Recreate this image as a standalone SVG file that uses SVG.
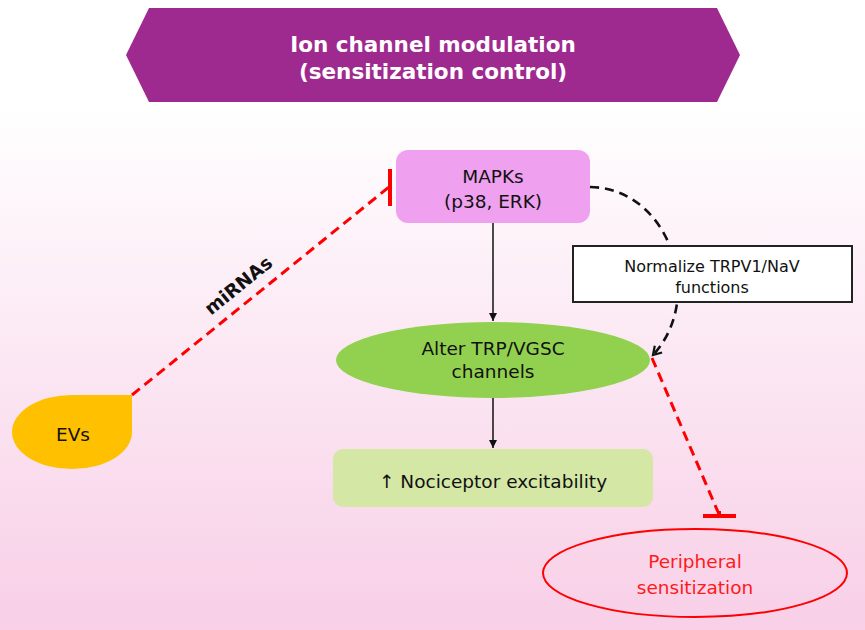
<svg xmlns="http://www.w3.org/2000/svg" width="865" height="630" viewBox="0 0 865 630">
<defs>
<linearGradient id="bg" x1="0" y1="0" x2="0" y2="630" gradientUnits="userSpaceOnUse">
<stop offset="0" stop-color="#ffffff"/>
<stop offset="0.17" stop-color="#ffffff"/>
<stop offset="0.5" stop-color="#fcebf5"/>
<stop offset="1" stop-color="#f8cfe7"/>
</linearGradient>
<marker id="arrow" markerUnits="userSpaceOnUse" markerWidth="10" markerHeight="10" refX="8" refY="4" orient="auto">
<path d="M0,0 L8,4 L0,8 z" fill="#111"/>
</marker>
<marker id="open" markerUnits="userSpaceOnUse" markerWidth="14" markerHeight="14" refX="9" refY="6" orient="auto">
<polyline points="1,1 9,6 1,11" fill="none" stroke="#111" stroke-width="2.2"/>
</marker>
<style>
.t{font-family:"DejaVu Sans","Liberation Sans",sans-serif;font-size:18.5px;fill:#111;text-anchor:middle}
.title{font-family:"DejaVu Sans","Liberation Sans",sans-serif;font-size:21.5px;font-weight:bold;fill:#fff;text-anchor:middle}
.red{stroke:#ff0000;stroke-width:3;fill:none;stroke-dasharray:10 6}
.bar{stroke:#ff0000;stroke-width:4;fill:none}
.solid{stroke:#111;stroke-width:1.5;fill:none}
.blk{stroke:#111;stroke-width:2.6;fill:none;stroke-dasharray:9 6}
</style>
</defs>
<rect width="865" height="630" fill="url(#bg)"/>

<g id="title">
<polygon points="126,55 149,8 717,8 740,55 717,102 149,102" fill="#9f2a8f"/>
<text class="title" x="433" y="52">Ion channel modulation</text>
<text class="title" x="433" y="79">(sensitization control)</text>
</g>

<g id="connectors">
<line class="solid" x1="493" y1="223" x2="493" y2="321" marker-end="url(#arrow)"/>
<line class="solid" x1="493" y1="397" x2="493" y2="448" marker-end="url(#arrow)"/>
<path class="blk" d="M590,187 C670,188 706,298 653,355" marker-end="url(#open)"/>
<line class="red" x1="132" y1="395" x2="389" y2="187"/>
<line class="bar" x1="390" y1="169" x2="390" y2="206"/>
<line class="red" x1="652" y1="358" x2="718" y2="512"/>
<line class="bar" x1="719" y1="511" x2="719" y2="516"/>
<line class="bar" x1="703" y1="516" x2="736" y2="516"/>
<text x="0" y="7" transform="translate(238,285) rotate(-39)" style="font-family:'DejaVu Sans','Liberation Sans',sans-serif;font-size:18.5px;font-weight:bold;fill:#111;text-anchor:middle">miRNAs</text>
</g>

<g id="mapks">
<rect x="396" y="150" width="194" height="73" rx="12" fill="#efa0ef"/>
<text class="t" x="493" y="183">MAPKs</text>
<text class="t" x="493" y="208">(p38, ERK)</text>
</g>

<g id="normalize">
<rect x="573" y="246" width="279" height="56" fill="#ffffff" stroke="#222" stroke-width="2"/>
<text class="t" x="712" y="272" style="font-size:16px">Normalize TRPV1/NaV</text>
<text class="t" x="712" y="293" style="font-size:16px">functions</text>
</g>

<g id="alter">
<ellipse cx="493" cy="360" rx="157" ry="38" fill="#92d050"/>
<text class="t" x="493" y="355">Alter TRP/VGSC</text>
<text class="t" x="493" y="378">channels</text>
</g>

<g id="nociceptor">
<rect x="333" y="449" width="320" height="58" rx="10" fill="#d4e7a5"/>
<text class="t" x="493" y="488">↑ Nociceptor excitability</text>
</g>

<g id="evs">
<path d="M132,395 L132,432 A60,37 0 0 1 72,469 A60,37 0 0 1 12,432 A60,37 0 0 1 72,395 Z" fill="#ffc000"/>
<text class="t" x="73" y="441">EVs</text>
</g>

<g id="peripheral">
<ellipse cx="695" cy="573" rx="152" ry="44" fill="none" stroke="#ff0000" stroke-width="2"/>
<text class="t" x="695" y="568" style="fill:#ff1a1a">Peripheral</text>
<text class="t" x="695" y="594" style="fill:#ff1a1a">sensitization</text>
</g>
</svg>
